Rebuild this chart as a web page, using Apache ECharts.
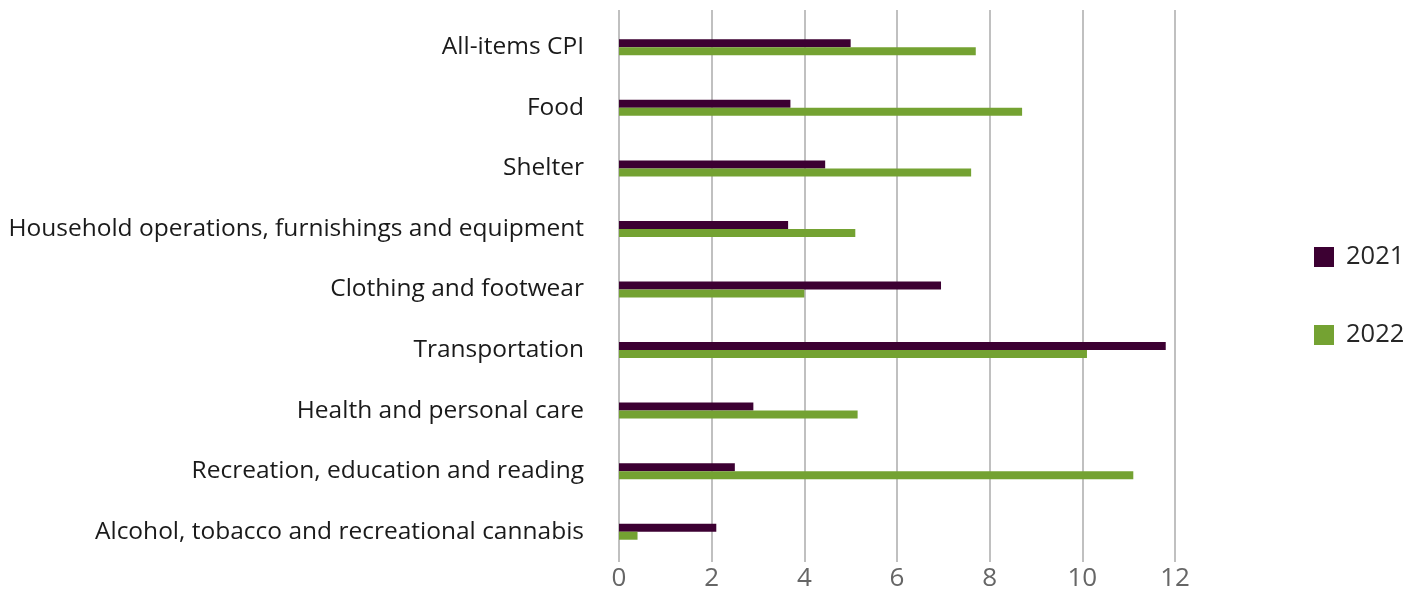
<!DOCTYPE html>
<html>
<head>
<meta charset="utf-8">
<script src="https://cdn.jsdelivr.net/npm/echarts@6/dist/echarts.min.js"></script>
<style>html,body{margin:0;padding:0;background:#fff}#c{width:1424px;height:592px}</style>
</head>
<body>
<div id="c"></div>
<script>
const categories = [
  "All-items CPI",
  "Food",
  "Shelter",
  "Household operations, furnishings and equipment",
  "Clothing and footwear",
  "Transportation",
  "Health and personal care",
  "Recreation, education and reading",
  "Alcohol, tobacco and recreational cannabis"
];
const values2021 = [5.0, 3.7, 4.45, 3.65, 6.95, 11.8, 2.9, 2.5, 2.1];
const values2022 = [7.7, 8.7, 7.6, 5.1, 4.0, 10.1, 5.15, 11.1, 0.4];
const seriesNames = ["2021", "2022"];
const xTicks = [0, 2, 4, 6, 8, 10, 12];

const FONT = "Open Sans";
const chart = echarts.init(document.getElementById('c'), null, {renderer: 'canvas'});
chart.setOption({
  animation: false,
  textStyle: {fontFamily: FONT},
  legend: {
    orient: 'vertical',
    left: 1314,
    top: 244,
    padding: 0,
    itemWidth: 20,
    itemHeight: 20,
    itemGap: 52,
    icon: 'rect',
    textStyle: {fontSize: 25.5, color: '#262626', fontFamily: FONT, padding: [2, 0, 0, 7], lineHeight: 20},
    data: seriesNames
  },
  grid: [
    {left: 619, right: 249, top: 17, bottom: 30, containLabel: false},
    {left: 619, right: 249, top: 10, bottom: 30, containLabel: false}
  ],
  xAxis: [
    {
      gridIndex: 0, type: 'value', min: 0, max: 12, interval: 2,
      axisLine: {show: false}, axisTick: {show: false},
      splitLine: {show: false},
      axisLabel: {fontSize: 26, color: '#666666', fontFamily: FONT, margin: 4,
        formatter: v => xTicks.includes(v) ? String(v) : ''}
    },
    {
      gridIndex: 1, type: 'value', min: 0, max: 12, interval: 2,
      axisLine: {show: false}, axisTick: {show: false}, axisLabel: {show: false},
      splitLine: {show: true, lineStyle: {color: '#ababab', width: 1.5}}
    }
  ],
  yAxis: [
    {
      gridIndex: 0, type: 'category', data: categories, inverse: true,
      axisLine: {show: false}, axisTick: {show: false},
      axisLabel: {fontSize: 24.5, color: '#1a1a1a', fontFamily: FONT, margin: 35, padding: [8, 0, 0, 0]}
    },
    {
      gridIndex: 1, type: 'category', data: categories, inverse: true, show: false
    }
  ],
  series: [
    {name: seriesNames[0], type: 'bar', xAxisIndex: 0, yAxisIndex: 0, data: values2021,
     barWidth: 8, barGap: '0%', itemStyle: {color: '#3c0032'}},
    {name: seriesNames[1], type: 'bar', xAxisIndex: 0, yAxisIndex: 0, data: values2022,
     barWidth: 8, barGap: '0%', itemStyle: {color: '#74a232'}}
  ]
});
</script>
</body>
</html>
